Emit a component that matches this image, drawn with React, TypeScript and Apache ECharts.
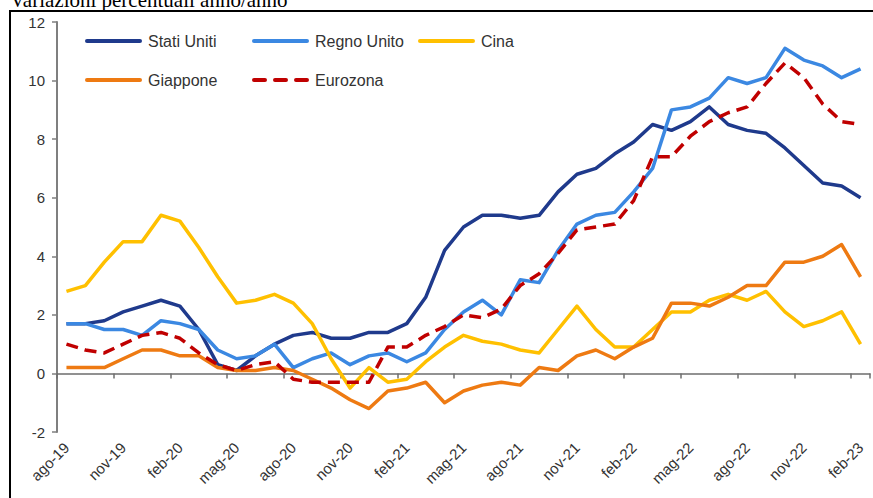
import React, { useEffect, useRef } from "react";
import * as echarts from "echarts";

const months = [
  "ago-19", "set-19", "ott-19", "nov-19", "dic-19", "gen-20", "feb-20", "mar-20", "apr-20", "mag-20", "giu-20", "lug-20",
  "ago-20", "set-20", "ott-20", "nov-20", "dic-20", "gen-21", "feb-21", "mar-21", "apr-21", "mag-21", "giu-21", "lug-21",
  "ago-21", "set-21", "ott-21", "nov-21", "dic-21", "gen-22", "feb-22", "mar-22", "apr-22", "mag-22", "giu-22", "lug-22",
  "ago-22", "set-22", "ott-22", "nov-22", "dic-22", "gen-23", "feb-23",
];

const statiUniti = [1.7, 1.7, 1.8, 2.1, 2.3, 2.5, 2.3, 1.5, 0.3, 0.1, 0.6, 1.0, 1.3, 1.4, 1.2, 1.2, 1.4, 1.4, 1.7, 2.6, 4.2, 5.0, 5.4, 5.4, 5.3, 5.4, 6.2, 6.8, 7.0, 7.5, 7.9, 8.5, 8.3, 8.6, 9.1, 8.5, 8.3, 8.2, 7.7, 7.1, 6.5, 6.4, 6.0];
const regnoUnito = [1.7, 1.7, 1.5, 1.5, 1.3, 1.8, 1.7, 1.5, 0.8, 0.5, 0.6, 1.0, 0.2, 0.5, 0.7, 0.3, 0.6, 0.7, 0.4, 0.7, 1.5, 2.1, 2.5, 2.0, 3.2, 3.1, 4.2, 5.1, 5.4, 5.5, 6.2, 7.0, 9.0, 9.1, 9.4, 10.1, 9.9, 10.1, 11.1, 10.7, 10.5, 10.1, 10.4];
const cina = [2.8, 3.0, 3.8, 4.5, 4.5, 5.4, 5.2, 4.3, 3.3, 2.4, 2.5, 2.7, 2.4, 1.7, 0.5, -0.5, 0.2, -0.3, -0.2, 0.4, 0.9, 1.3, 1.1, 1.0, 0.8, 0.7, 1.5, 2.3, 1.5, 0.9, 0.9, 1.5, 2.1, 2.1, 2.5, 2.7, 2.5, 2.8, 2.1, 1.6, 1.8, 2.1, 1.0];
const giappone = [0.2, 0.2, 0.2, 0.5, 0.8, 0.8, 0.6, 0.6, 0.2, 0.1, 0.1, 0.2, 0.1, -0.2, -0.5, -0.9, -1.2, -0.6, -0.5, -0.3, -1.0, -0.6, -0.4, -0.3, -0.4, 0.2, 0.1, 0.6, 0.8, 0.5, 0.9, 1.2, 2.4, 2.4, 2.3, 2.6, 3.0, 3.0, 3.8, 3.8, 4.0, 4.4, 3.3];
const eurozona = [1.0, 0.8, 0.7, 1.0, 1.3, 1.4, 1.2, 0.7, 0.3, 0.1, 0.3, 0.4, -0.2, -0.3, -0.3, -0.3, -0.3, 0.9, 0.9, 1.3, 1.6, 2.0, 1.9, 2.2, 3.0, 3.4, 4.1, 4.9, 5.0, 5.1, 5.9, 7.4, 7.4, 8.1, 8.6, 8.9, 9.1, 9.9, 10.6, 10.1, 9.2, 8.6, 8.5];

const title = "Variazioni percentuali anno/anno";
const FONT = '"Liberation Sans", Arial, sans-serif';
const TEXT = "#333333";

const SOLID_ICON = "path://M2,0H55A2,2 0 0 1 55,4H2A2,2 0 0 1 2,0Z";
const DASH_ICON =
  "path://M2,0H13A2,2 0 0 1 13,4H2A2,2 0 0 1 2,0Z M23,0H34A2,2 0 0 1 34,4H23A2,2 0 0 1 23,0Z M44,0H55A2,2 0 0 1 55,4H44A2,2 0 0 1 44,0Z";

const seriesDefs = [
  { name: "Stati Uniti", data: statiUniti, color: "#1F3A8C", type: "solid", icon: SOLID_ICON },
  { name: "Regno Unito", data: regnoUnito, color: "#3B88E2", type: "solid", icon: SOLID_ICON },
  { name: "Cina", data: cina, color: "#FFC000", type: "solid", icon: SOLID_ICON },
  { name: "Giappone", data: giappone, color: "#EE7A12", type: "solid", icon: SOLID_ICON },
  { name: "Eurozona", data: eurozona, color: "#C00000", type: [12, 7], icon: DASH_ICON },
];

const legendPos = [
  { left: 85, top: 33 },
  { left: 252, top: 33 },
  { left: 418, top: 33 },
  { left: 85, top: 72 },
  { left: 252, top: 72 },
];

export default function App() {
  const ref = useRef<HTMLDivElement>(null);
  useEffect(() => {
    if (!ref.current) return;
    const chart = echarts.init(ref.current, null, { renderer: "svg" });
    const option: any = {
      animation: false,
      grid: { left: 57, right: 3, top: 22, bottom: 66, containLabel: false, outerBoundsMode: "none" },
      legend: seriesDefs.map((s, i) => ({
        data: [{ name: s.name, icon: s.icon }],
        left: legendPos[i].left,
        top: legendPos[i].top,
        padding: 0,
        itemWidth: 57,
        itemHeight: 4,
        selectedMode: false,
        itemStyle: { color: s.color, borderWidth: 0 },
        textStyle: { fontFamily: FONT, fontSize: 16, color: TEXT, padding: [0, 0, 0, 1] },
      })),
      xAxis: {
        type: "category",
        data: months,
        boundaryGap: true,
        axisLine: { onZero: true, lineStyle: { color: "#6e6e6e", width: 1.5 } },
        axisTick: { show: true, interval: 2, length: 5, lineStyle: { color: "#6e6e6e", width: 1.5 } },
        axisLabel: { interval: 2, rotate: 45, margin: 13, fontFamily: FONT, fontSize: 15, color: TEXT },
        splitLine: { show: false },
      },
      yAxis: {
        type: "value",
        min: -2,
        max: 12,
        interval: 2,
        axisLine: { show: true, lineStyle: { color: "#7f7f7f", width: 2 } },
        axisTick: { show: true, length: 5, lineStyle: { color: "#7f7f7f", width: 1.5 } },
        axisLabel: { margin: 12, fontFamily: FONT, fontSize: 15, color: TEXT },
        splitLine: { show: false },
      },
      series: seriesDefs.map((s) => ({
        name: s.name,
        type: "line",
        data: s.data,
        symbol: "none",
        color: s.color,
        lineStyle: { color: s.color, width: 3.5, type: s.type, join: "round" },
      })),
      graphic: [
        {
          type: "rect",
          shape: { x: 10, y: 11, width: 900, height: 600 },
          style: { fill: "none", stroke: "#000000", lineWidth: 2 },
          silent: true,
        },
        {
          type: "text",
          x: 10,
          y: 10,
          style: {
            text: title,
            font: '21px "Liberation Serif", "Times New Roman", serif',
            fill: "#000000",
            verticalAlign: "bottom",
          },
          silent: true,
        },
      ],
    };
    chart.setOption(option);
    return () => chart.dispose();
  }, []);
  return (
    <div
      ref={ref}
      style={{ position: "absolute", left: 0, top: 0, width: 873, height: 498, background: "#ffffff" }}
    />
  );
}
